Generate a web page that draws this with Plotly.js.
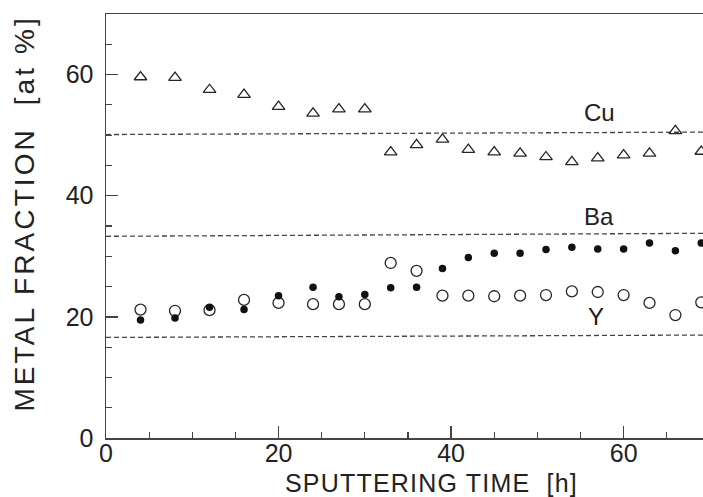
<!DOCTYPE html>
<html>
<head>
<meta charset="utf-8">
<script src="https://cdn.plot.ly/plotly-3.0.1.min.js"></script>
<style>
  html, body { margin: 0; padding: 0; background: #fff; overflow: hidden; }
  #chart { width: 703px; height: 497px; }
  g.annotation[data-index="0"] text { letter-spacing: 3.1px; }
  g.annotation[data-index="1"] text { letter-spacing: 1.2px; }
</style>
</head>
<body>
<div id="chart"></div>
<script>
// Sputtering time [h]
const time = [4, 8, 12, 16, 20, 24, 27, 30, 33, 36, 39, 42, 45, 48, 51, 54, 57, 60, 63, 66, 69];
// Metal fractions [at %]
const cu = [59.6, 59.5, 57.5, 56.7, 54.7, 53.6, 54.3, 54.3, 47.2, 48.4, 49.3, 47.6, 47.2, 47.0, 46.4, 45.6, 46.2, 46.7, 47.0, 50.7, 47.3];
const ba = [19.5, 19.8, 21.6, 21.2, 23.5, 24.9, 23.3, 23.7, 24.8, 24.9, 28.0, 29.8, 30.5, 30.5, 31.1, 31.5, 31.2, 31.2, 32.2, 30.9, 32.2];
const yy = [21.2, 21.0, 21.1, 22.8, 22.3, 22.1, 22.1, 22.1, 28.9, 27.6, 23.5, 23.5, 23.4, 23.5, 23.6, 24.2, 24.1, 23.6, 22.3, 20.3, 22.4];
// Nominal (stoichiometric) reference levels, start/end
const refX = [0, 70];
const cuRef = [50.1, 50.5];
const baRef = [33.3, 33.8];
const yRef = [16.6, 17.0];
// Labels
const labelText = ['Cu', 'Ba', 'Y'];
const labelX = [57.2, 57.2, 56.8];
const labelY = [53.8, 36.5, 20.1];
const xTickVals = [0, 20, 40, 60];
const yTickVals = [0, 20, 40, 60];

const ink = '#262626';
const axisInk = '#444';
const dashStyle = {color: '#444', width: 1.3, dash: '5px,3px'};

const traces = [
  {x: refX, y: cuRef, mode: 'lines', line: dashStyle, hoverinfo: 'skip', showlegend: false},
  {x: refX, y: baRef, mode: 'lines', line: dashStyle, hoverinfo: 'skip', showlegend: false},
  {x: refX, y: yRef, mode: 'lines', line: dashStyle, hoverinfo: 'skip', showlegend: false},
  {x: time, y: cu, mode: 'markers', name: 'Cu',
   marker: {symbol: 'triangle-up-open', size: 11, color: ink, line: {width: 1.3, color: ink}}},
  {x: time, y: yy, mode: 'markers', name: 'Y',
   marker: {symbol: 'circle-open', size: 11, color: ink, line: {width: 1.3, color: ink}}},
  {x: time, y: ba, mode: 'markers', name: 'Ba',
   marker: {symbol: 'circle', size: 7.5, color: '#111', line: {width: 0}}}
];

const tickFont = {family: 'Liberation Sans, Arial, sans-serif', size: 25, color: '#222'};
const annotations = [
  {text: 'METAL FRACTION  [at %]', xref: 'paper', yref: 'paper', x: -0.137, y: 0.53,
   xanchor: 'center', yanchor: 'middle', textangle: -90, showarrow: false,
   font: {family: 'Liberation Sans, Arial, sans-serif', size: 28, color: '#222'}},
  {text: 'SPUTTERING TIME  [h]', xref: 'paper', yref: 'paper', x: 0.545, y: -0.106,
   xanchor: 'center', yanchor: 'middle', showarrow: false,
   font: {family: 'Liberation Sans, Arial, sans-serif', size: 25, color: '#222'}}
];
labelText.forEach((t, i) => annotations.push({
  text: t, x: labelX[i], y: labelY[i], xref: 'x', yref: 'y', showarrow: false,
  xanchor: 'center', yanchor: 'middle',
  font: {family: 'Liberation Sans, Arial, sans-serif', size: 24, color: '#222'}
}));

const layout = {
  width: 703, height: 497,
  margin: {l: 106, r: 0, t: 14, b: 59, pad: 0},
  paper_bgcolor: '#fff', plot_bgcolor: '#fff',
  showlegend: false,
  xaxis: {
    range: [0, 69.2], showgrid: false, zeroline: false,
    showline: true, mirror: true, linecolor: axisInk, linewidth: 1.5,
    ticks: 'inside', ticklen: 12, tickwidth: 1.3, tickcolor: axisInk,
    tickvals: xTickVals, ticktext: xTickVals.map(String),
    tickfont: tickFont, ticklabelstandoff: -8,
    minor: {ticks: 'inside', ticklen: 6, dtick: 5, tick0: 0, tickwidth: 1.2, tickcolor: axisInk, showgrid: false}
  },
  yaxis: {
    range: [0, 70], showgrid: false, zeroline: false,
    showline: true, mirror: false, linecolor: axisInk, linewidth: 1.5,
    ticks: 'inside', ticklen: 12, tickwidth: 1.3, tickcolor: axisInk,
    tickvals: yTickVals, ticktext: yTickVals.map(String),
    tickfont: tickFont, ticklabelstandoff: 6,
    minor: {ticks: 'inside', ticklen: 6, dtick: 5, tick0: 0, tickwidth: 1.2, tickcolor: axisInk, showgrid: false}
  },
  annotations: annotations
};

Plotly.newPlot('chart', traces, layout, {staticPlot: true, displayModeBar: false});
</script>
</body>
</html>
